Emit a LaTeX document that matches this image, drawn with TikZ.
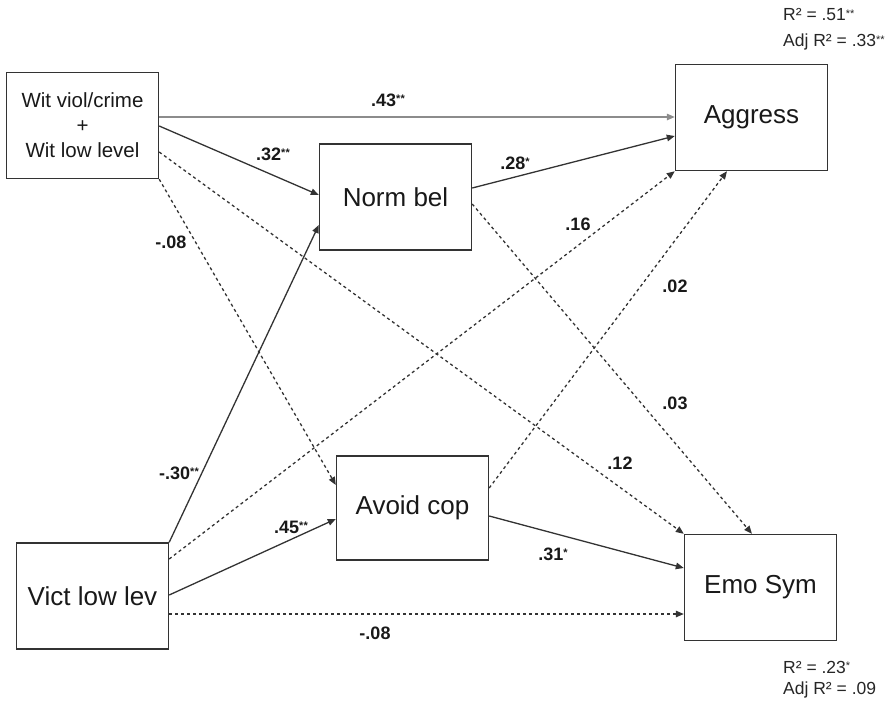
\documentclass[tikz,border=0pt]{standalone}
\usepackage{fontspec}
\setmainfont{Liberation Sans}
\usetikzlibrary{arrows.meta}
\newcommand{\sigst}[1]{{\fontsize{11}{11}\selectfont\raisebox{3.5pt}{#1}}}
\begin{document}
\begin{tikzpicture}[x=1pt,y=-1pt,
  box/.style={draw=black!80,line width=1.4pt,fill=white,minimum width=152pt,minimum height=106pt,inner sep=0pt,
    font=\fontsize{26}{30}\selectfont,text=black!90},
  conn/.style={line width=1.3pt,draw=black!80,-{Triangle[length=8pt,width=6.5pt]}},
  light/.style={conn,draw=black!45},
  dsh/.style={conn,dash pattern=on 3pt off 3pt},
  lab/.style={font=\fontsize{18}{18}\selectfont\bfseries,text=black!90,inner sep=0pt},
  rsq/.style={font=\fontsize{17.5}{17.5}\selectfont,text=black!85,inner sep=0pt,anchor=west}]
\useasboundingbox (0,0) rectangle (895,702);
\node[box,align=center,font=\fontsize{20.5}{25}\selectfont] (wit) at (82.5,125.5) {Wit viol/crime\\+\\Wit low level};
\node[box] (norm) at (395.5,197) {Norm bel};
\node[box] (agg) at (751.5,117.5) {Aggress};
\node[box,minimum height=104pt] (avoid) at (412.5,508) {Avoid cop};
\node[box] (vict) at (92.5,596) {Vict low lev};
\node[box] (emo) at (760.5,587.5) {Emo Sym};
% connectors
\draw[light] (wit.east |- 0,117) -- (agg.west |- 0,117);
\draw[conn] (wit.east |- 0,126) -- (norm.west |- 0,195);
\draw[dsh] (wit.east |- 0,152) -- (emo.north west);
\draw[dsh] (wit.south east) -- (avoid.west |- 0,485);
\draw[conn] (norm.east |- 0,188) -- (agg.west |- 0,136);
\draw[dsh] (norm.east |- 0,204) -- (emo.north -| 752,0);
\draw[conn] (vict.north east) -- (norm.west |- 0,225);
\draw[dsh] (vict.east |- 0,559) -- (agg.south west);
\draw[conn] (vict.east |- 0,595) -- (avoid.west |- 0,519);
\draw[dsh] (vict.east |- 0,614) -- (emo.west |- 0,614);
\draw[dsh] (avoid.east |- 0,488) -- (agg.south -| 727,0);
\draw[conn] (avoid.east |- 0,516) -- (emo.west |- 0,568);
% labels
\node[lab] (l43) at (388,100) {.43\sigst{**}};
\node[lab] (l32) at (273,154) {.32\sigst{**}};
\node[lab] (l08a) at (171,242) {-.08};
\node[lab] (l28) at (515,163) {.28\sigst{*}};
\node[lab] (l16) at (578,224) {.16};
\node[lab] (l02) at (675,286) {.02};
\node[lab] (l03) at (675,403) {.03};
\node[lab] (l12) at (620,463) {.12};
\node[lab] (l30) at (179,473) {-.30\sigst{**}};
\node[lab] (l45) at (291,527) {.45\sigst{**}};
\node[lab] (l08b) at (375,633) {-.08};
\node[lab] (l31) at (553,554) {.31\sigst{*}};
% R squared
\node[rsq] (r1) at (783,15) {R² = .51\sigst{**}};
\node[rsq] (r2) at (783,42) {Adj R² = .33\sigst{**}};
\node[rsq] (r3) at (783,667) {R² = .23\sigst{*}};
\node[rsq] (r4) at (783,690) {Adj R² = .09};
\end{tikzpicture}
\end{document}
